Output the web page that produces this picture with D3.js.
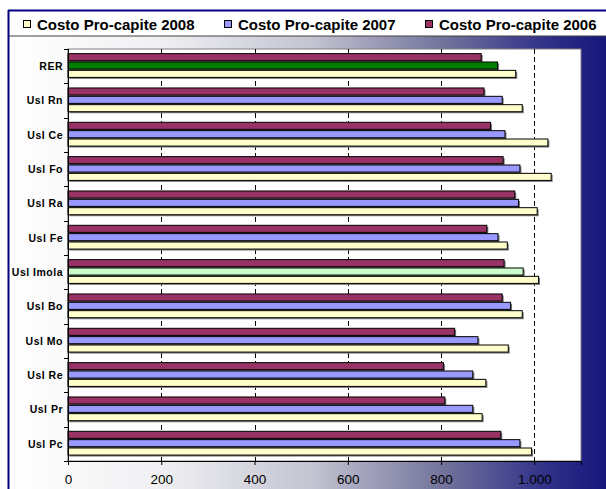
<!DOCTYPE html>
<html>
<head>
<meta charset="utf-8">
<script src="https://cdn.jsdelivr.net/npm/d3@7"></script>
<style>
  html, body { margin: 0; padding: 0; background: #ffffff; }
  svg { display: block; font-family: Arial, "Liberation Sans", sans-serif; }
</style>
</head>
<body>
<svg id="chart" width="606" height="489"></svg>
<script>
// Per-capita cost by health unit, three years
const categories = ["RER", "Usl Rn", "Usl Ce", "Usl Fo", "Usl Ra", "Usl Fe",
                    "Usl Imola", "Usl Bo", "Usl Mo", "Usl Re", "Usl Pr", "Usl Pc"];
const costo2006 = [886, 892, 906, 933, 958, 898, 935, 931, 829, 805, 808, 928];
const costo2007 = [921, 931, 937, 969, 966, 922, 976, 949, 879, 868, 868, 969];
const costo2008 = [960, 974, 1029, 1036, 1006, 942, 1009, 974, 944, 896, 888, 994];
const seriesNames = ["Costo Pro-capite 2006", "Costo Pro-capite 2007", "Costo Pro-capite 2008"];
const legendOrder = ["Costo Pro-capite 2008", "Costo Pro-capite 2007", "Costo Pro-capite 2006"];
const xTicks = [0, 200, 400, 600, 800, 1000];

const seriesValues = [costo2006, costo2007, costo2008];
const seriesColor = {
  "Costo Pro-capite 2006": "#993366",
  "Costo Pro-capite 2007": "#9999FF",
  "Costo Pro-capite 2008": "#FFFFCC"
};
// the regional total and Imola get their own 2007 colour
const special2007 = { "RER": "#008000", "Usl Imola": "#CCFFCC" };

const svg = d3.select("#chart");
const W = 606, H = 489;

// background gradient of the chart area
const defs = svg.append("defs");
const grad = defs.append("linearGradient").attr("id", "bg")
  .attr("x1", "0%").attr("y1", "0%").attr("x2", "100%").attr("y2", "0%");
[["0%", "#ffffff"], ["25%", "#f0f0f3"], ["50%", "#c4c4d2"], ["72%", "#72729c"],
 ["88%", "#33338a"], ["100%", "#12127a"]].forEach(([o, c]) =>
  grad.append("stop").attr("offset", o).attr("stop-color", c));

// outer frame
svg.append("rect").attr("x", 8).attr("y", 10).attr("width", W).attr("height", H)
  .attr("fill", "url(#bg)");
svg.append("rect").attr("x", 9).attr("y", 11).attr("width", W).attr("height", 25)
  .attr("fill", "#ffffff");
svg.append("line").attr("x1", 9).attr("x2", W).attr("y1", 36).attr("y2", 36)
  .attr("stroke", "#404040").attr("stroke-width", 1);
svg.append("line").attr("x1", 8).attr("x2", W).attr("y1", 10.5).attr("y2", 10.5)
  .attr("stroke", "#000080").attr("stroke-width", 2);
svg.append("line").attr("x1", 8.5).attr("x2", 8.5).attr("y1", 10).attr("y2", H)
  .attr("stroke", "#000080").attr("stroke-width", 2);

// legend
const legendX = [23, 224, 425];
const lg = svg.append("g").selectAll("g").data(legendOrder).join("g")
  .attr("transform", (d, i) => `translate(${legendX[i]},0)`);
lg.append("rect").attr("x", 0.5).attr("y", 20.5).attr("width", 7).attr("height", 7)
  .attr("fill", d => seriesColor[d]).attr("stroke", "#000").attr("stroke-width", 1);
lg.append("text").attr("x", 14).attr("y", 29.5).attr("font-size", 15)
  .attr("font-weight", "bold").attr("fill", "#000").text(d => d);

// plot area
const plot = { left: 68, right: 581, top: 49, bottom: 461 };
svg.append("rect").attr("x", plot.left).attr("y", plot.top)
  .attr("width", plot.right - plot.left).attr("height", plot.bottom - plot.top)
  .attr("fill", "#ffffff").attr("stroke", "#808080").attr("stroke-width", 1);

const x = d3.scaleLinear().domain([0, 1100]).range([plot.left, plot.right]);
const y = d3.scaleBand().domain(categories).range([plot.top, plot.bottom])
  .paddingInner(0.27).paddingOuter(0.135);
const ySub = d3.scaleBand().domain(seriesNames).range([0, y.bandwidth()]);

// vertical gridlines
svg.append("g").selectAll("line").data(xTicks.filter(t => t > 0)).join("line")
  .attr("x1", d => Math.round(x(d)) + 0.5).attr("x2", d => Math.round(x(d)) + 0.5)
  .attr("y1", plot.top).attr("y2", plot.bottom)
  .attr("stroke", "#000").attr("stroke-width", 1).attr("stroke-dasharray", "5,3");

// bars
const shadow = 1.5;
const barH = ySub.bandwidth() - 1.3;
const rows = [];
categories.forEach((c, i) => seriesNames.forEach((s, j) =>
  rows.push({ cat: c, series: s, value: seriesValues[j][i] })));
const barColor = d => (d.series === "Costo Pro-capite 2007" && special2007[d.cat])
  ? special2007[d.cat] : seriesColor[d.series];

const bars = svg.append("g");
bars.selectAll("rect.shadow").data(rows).join("rect").attr("class", "shadow")
  .attr("x", x(0) + shadow).attr("y", d => y(d.cat) + ySub(d.series) + shadow)
  .attr("width", d => x(d.value) - x(0)).attr("height", barH)
  .attr("fill", "#7a7a7a");
bars.selectAll("rect.bar").data(rows).join("rect").attr("class", "bar")
  .attr("x", x(0)).attr("y", d => y(d.cat) + ySub(d.series))
  .attr("width", d => x(d.value) - x(0)).attr("height", barH)
  .attr("fill", barColor).attr("stroke", "#000").attr("stroke-width", 1);

// x axis
const xAxis = d3.axisBottom(x).tickValues(xTicks).tickSize(4).tickPadding(9)
  .tickFormat(d => d3.format(",")(d).replace(/,/g, "."));
const gx = svg.append("g").attr("transform", `translate(0,${plot.bottom})`).call(xAxis);
gx.select(".domain").attr("stroke", "#000");
gx.selectAll(".tick line").attr("stroke", "#000");
gx.selectAll(".tick text").attr("font-size", 13.5).attr("fill", "#000")
  .attr("font-family", "Arial, 'Liberation Sans', sans-serif");

// y axis: ticks on category boundaries
const gy = svg.append("g").attr("transform", `translate(${plot.left},0)`);
gy.append("line").attr("x1", 0.5).attr("x2", 0.5).attr("y1", plot.top).attr("y2", plot.bottom + 4)
  .attr("stroke", "#000");
const bounds = categories.map(c => y(c) - y.step() * y.paddingInner() / 2).concat([plot.bottom]);
gy.selectAll("line.tk").data(bounds).join("line").attr("class", "tk")
  .attr("x1", -4).attr("x2", 0.5).attr("y1", d => Math.round(d) + 0.5).attr("y2", d => Math.round(d) + 0.5)
  .attr("stroke", "#000");
gy.selectAll("text").data(categories).join("text")
  .attr("x", -5).attr("y", d => y(d) + y.bandwidth() / 2).attr("dy", "0.35em")
  .attr("text-anchor", "end").attr("font-size", 10.5).attr("font-weight", "bold")
  .attr("letter-spacing", 0.5)
  .attr("fill", "#000").text(d => d);
</script>
</body>
</html>
